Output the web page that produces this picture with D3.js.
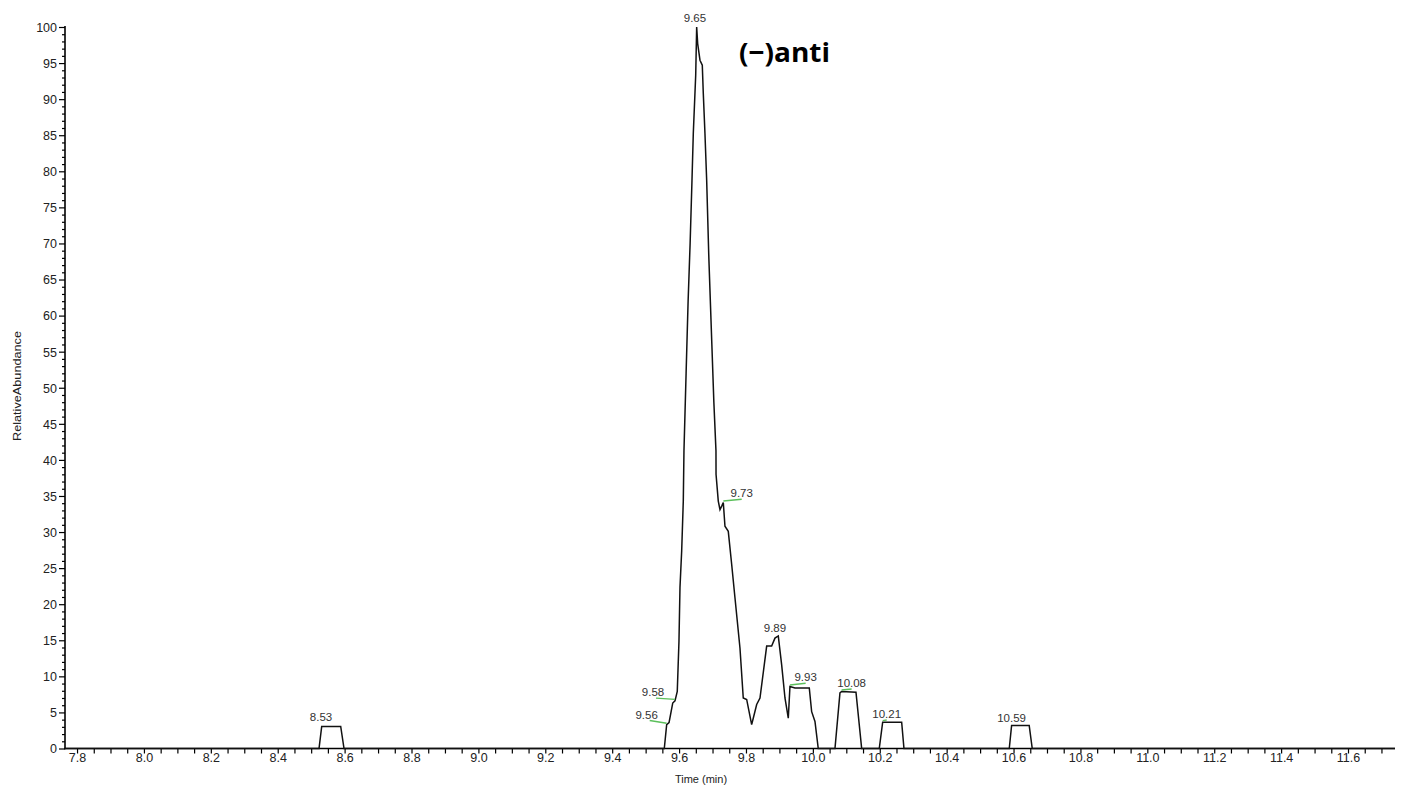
<!DOCTYPE html>
<html>
<head>
<meta charset="utf-8">
<script src="https://cdn.jsdelivr.net/npm/d3@7"></script>
<style>
  html, body { margin: 0; padding: 0; background: #fff; }
  svg { display: block; }
</style>
</head>
<body>
<svg id="chart" width="1402" height="791"></svg>
<script>
// ---------------- data ----------------
const timeRange = [7.764, 11.7405];
const abundRange = [0, 100];
const xTickValues = d3.range(0, 79).map(i => +(7.8 + i * 0.05).toFixed(2));
const xTickLabels = ["7.8","8.0","8.2","8.4","8.6","8.8","9.0","9.2","9.4","9.6","9.8","10.0","10.2","10.4","10.6","10.8","11.0","11.2","11.4","11.6"];
const yTickValues = d3.range(0, 101, 1);
const yTickLabels = ["0","5","10","15","20","25","30","35","40","45","50","55","60","65","70","75","80","85","90","95","100"];

const traceTime = [
  7.764, 8.5235, 8.5315, 8.5883, 8.5982,
  9.5558, 9.5629, 9.5700, 9.5810, 9.5878, 9.5946, 9.5997, 9.6027, 9.6078, 9.6126, 9.6146,
  9.6210, 9.6270, 9.6330, 9.6386, 9.6425, 9.6497, 9.6526,
  9.6556, 9.6625, 9.6694, 9.6724, 9.6774, 9.6825, 9.6890, 9.6980, 9.7040, 9.7103, 9.7105,
  9.7172, 9.7223, 9.7274, 9.7322, 9.7372, 9.7471, 9.7573, 9.7671, 9.7821, 9.7919, 9.8021,
  9.8170, 9.8218, 9.8320, 9.8419, 9.8619, 9.8768, 9.8867, 9.8966, 9.9067, 9.9166, 9.9265,
  9.9315, 9.9465, 9.9893, 9.9964, 10.0063, 10.0161,
  10.0661, 10.0810, 10.0860, 10.1289, 10.1459,
  10.1985, 10.2087, 10.2655, 10.2724,
  10.5872, 10.5942, 10.6468, 10.6559,
  11.7405
];
const traceAbund = [
  0, 0, 3.06, 3.06, 0,
  0, 3.3, 3.6, 6.3, 6.6, 7.9, 14.9, 22.3, 27.4, 34.3, 41.25,
  52, 62, 70, 78.75, 85.2, 93.3, 100,
  97.7, 95.4, 94.7, 90.8, 85.2, 78.75, 68, 56, 48, 41.25, 38,
  34.3, 33.1, 33.6, 34.1, 30.8, 30.1, 25.5, 20.9, 13.9, 7.0, 6.8,
  3.3, 4.2, 6.1, 7.0, 14.2, 14.2, 15.3, 15.6, 11.6, 7.0, 4.2,
  8.6, 8.4, 8.4, 5.1, 3.75, 0,
  0, 7.7, 7.9, 7.8, 0,
  0, 3.65, 3.65, 0,
  0, 3.2, 3.2, 0,
  0
];

// peak annotations (apex time / abundance, text)
const peakTime  = [8.5315, 9.5629, 9.5878, 9.6526, 9.7322, 9.8966, 9.9315, 10.0860, 10.2087, 10.5942];
const peakAbund = [3.06, 3.3, 6.6, 100, 34.1, 15.6, 8.6, 7.9, 3.65, 3.2];
const peakText  = ["8.53", "9.56", "9.58", "9.65", "9.73", "9.89", "9.93", "10.08", "10.21", "10.59"];

// ---------------- layout / style ----------------
const labelDx = [-0.7, -20, -22, -1.7, 18.4, -3.3, 15.7, 10, 4, 0];
const labelDy = [-5, -6, -4.6, -5, -5, -4.3, -5, -4.3, -4, -3.3];
const labelMark = [false, true, true, false, true, false, true, true, true, false];

const svg = d3.select("#chart");
const x = d3.scaleLinear().domain(timeRange).range([65, 1395]);
const y = d3.scaleLinear().domain(abundRange).range([748.5, 27]);

// y axis
const yAxis = d3.axisLeft(y)
  .tickValues(yTickValues)
  .tickSize(0)
  .tickFormat(d => (d % 5 === 0 && yTickLabels.includes(String(d))) ? String(d) : "");
const gy = svg.append("g").attr("transform", "translate(65,0)").call(yAxis);
gy.select(".domain").remove();
gy.selectAll(".tick line")
  .attr("x2", d => d % 5 === 0 ? -6 : -3)
  .attr("stroke", "#000").attr("stroke-width", 1.2);
gy.selectAll(".tick text")
  .attr("x", -8)
  .attr("dy", "0.35em")
  .attr("fill", "#222")
  .style("font-family", "'Liberation Sans', Arial, sans-serif")
  .style("font-size", "12.5px");

// x axis
const xAxis = d3.axisBottom(x)
  .tickValues(xTickValues)
  .tickSize(0)
  .tickFormat(d => {
    const s = d.toFixed(1);
    return (Math.abs(d * 5 - Math.round(d * 5)) < 1e-6 && xTickLabels.includes(s)) ? s : "";
  });
const gx = svg.append("g").attr("transform", "translate(0,748.5)").call(xAxis);
gx.select(".domain").remove();
gx.selectAll(".tick line")
  .attr("y2", 5)
  .attr("stroke", "#000").attr("stroke-width", 1.2);
gx.selectAll(".tick text")
  .attr("y", 5)
  .attr("dy", "0.71em")
  .attr("fill", "#222")
  .style("font-family", "'Liberation Sans', Arial, sans-serif")
  .style("font-size", "12.5px");

// axis lines
svg.append("line").attr("x1", 65).attr("x2", 65).attr("y1", y(100) - 1).attr("y2", 749.2)
  .attr("stroke", "#000").attr("stroke-width", 1.6);
svg.append("line").attr("x1", 64.2).attr("x2", 1395).attr("y1", 748.5).attr("y2", 748.5)
  .attr("stroke", "#000").attr("stroke-width", 1.6);

// trace
const pts = traceTime.map((t, i) => [t, traceAbund[i]]);
svg.append("path")
  .datum(pts)
  .attr("fill", "none")
  .attr("stroke", "#111")
  .attr("stroke-width", 1.5)
  .attr("stroke-linejoin", "miter")
  .attr("d", d3.line().x(d => x(d[0])).y(d => y(d[1])));

// peak labels
peakTime.forEach((t, i) => {
  const ax = x(t), ay = y(peakAbund[i]);
  const tx = ax + labelDx[i], ty = ay + labelDy[i];
  if (labelMark[i]) {
    svg.append("line")
      .attr("x1", ax).attr("y1", ay - 1.5)
      .attr("x2", tx + (labelDx[i] < 0 ? 3 : 0)).attr("y2", ty + 1.8)
      .attr("stroke", "#5bbf5b").attr("stroke-width", 1.4);
  }
  svg.append("text")
    .attr("x", tx).attr("y", ty)
    .attr("text-anchor", "middle")
    .attr("fill", "#333")
    .style("font-family", "'Liberation Sans', Arial, sans-serif")
    .style("font-size", "11.5px")
    .text(peakText[i]);
});

// axis titles
svg.append("text")
  .attr("x", 701).attr("y", 783)
  .attr("text-anchor", "middle")
  .attr("fill", "#222")
  .style("font-family", "'Liberation Sans', Arial, sans-serif")
  .style("font-size", "11px")
  .text("Time (min)");
svg.append("text")
  .attr("transform", "translate(21,386) rotate(-90)")
  .attr("text-anchor", "middle")
  .attr("fill", "#222")
  .attr("textLength", 110)
  .attr("lengthAdjust", "spacingAndGlyphs")
  .style("font-family", "'Liberation Sans', Arial, sans-serif")
  .style("font-size", "11px")
  .text("RelativeAbundance");

// compound annotation
svg.append("text")
  .attr("x", 739).attr("y", 62)
  .attr("fill", "#000")
  .attr("textLength", 91)
  .attr("lengthAdjust", "spacingAndGlyphs")
  .style("font-family", "'Open Sans', Lato, sans-serif")
  .style("font-weight", "bold")
  .style("font-size", "27px")
  .text("(−)anti");
</script>
</body>
</html>
